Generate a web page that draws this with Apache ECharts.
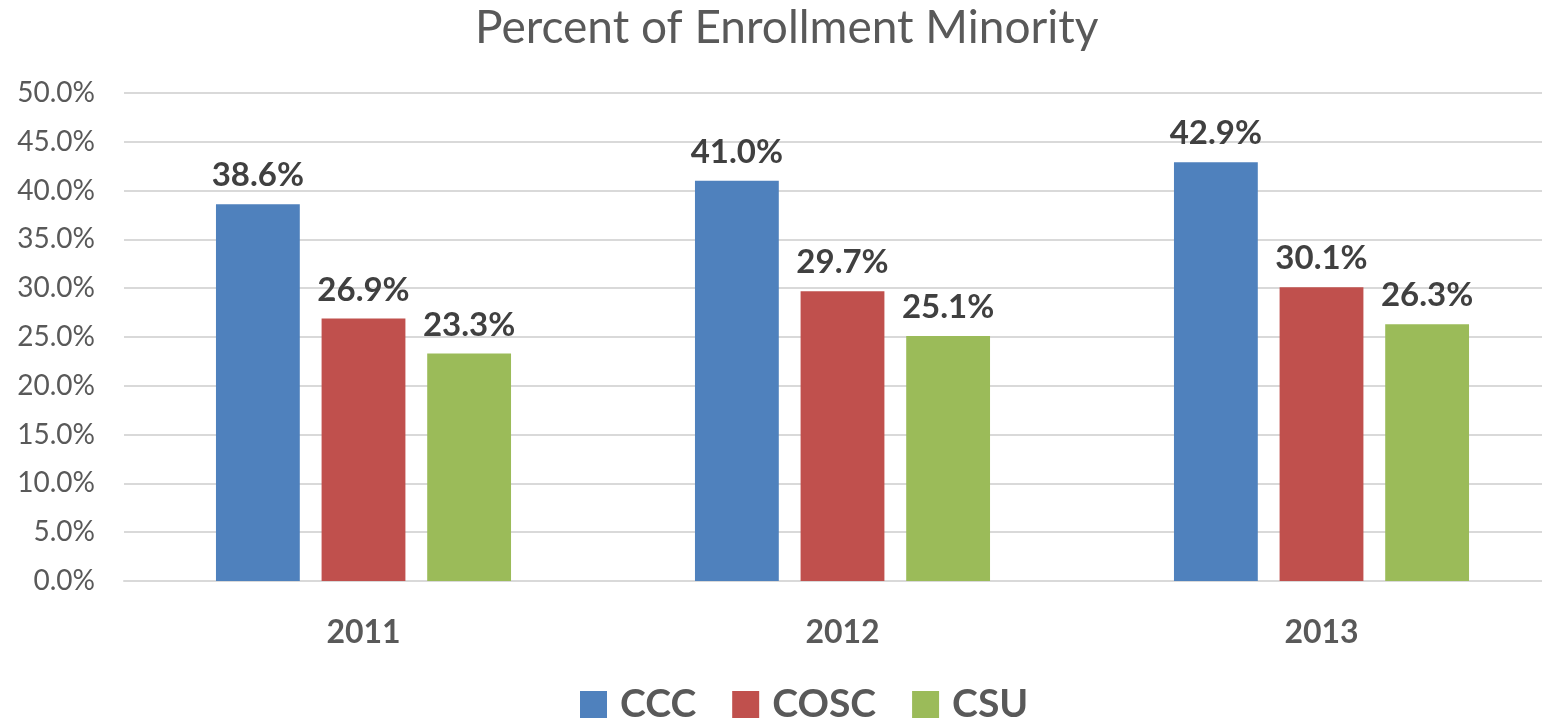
<!DOCTYPE html>
<html><head><meta charset="utf-8">
<script src="https://cdn.jsdelivr.net/npm/echarts@6/dist/echarts.min.js"></script>
<style>html,body{margin:0;padding:0;background:#fff}#c{width:1542px;height:722px}</style>
</head><body><div id="c"></div>
<script>
const categories = ['2011', '2012', '2013'];
const seriesNames = ['CCC', 'COSC', 'CSU'];
const ccc = [38.6, 41.0, 42.9];
const cosc = [26.9, 29.7, 30.1];
const csu = [23.3, 25.1, 26.3];
const colors = ['#4F81BD', '#C0504D', '#9BBB59'];
const FONT = 'Lato';

const chart = echarts.init(document.getElementById('c'));
const mk = (name, data, color) => ({
  name, type: 'bar', data,
  barWidth: '17.5%', barGap: '26%',
  itemStyle: { color },
  label: { show: true, position: 'top', distance: 12,
    formatter: p => p.value.toFixed(1) + '%',
    fontFamily: FONT, fontWeight: 'bold', fontSize: 33, color: '#404040' }
});
chart.setOption({
  animation: false,
  textStyle: { fontFamily: FONT },
  title: { text: 'Percent of Enrollment Minority', left: 470, top: 0,
    textStyle: { fontFamily: FONT, fontWeight: 'normal', fontSize: 46, color: '#595959' } },
  legend: { data: seriesNames, left: 575, top: 680, itemWidth: 27, itemHeight: 27, itemGap: 36,
    icon: 'rect',
    textStyle: { fontFamily: FONT, fontWeight: 'bold', fontSize: 39, color: '#595959', padding: [0,0,0,8] } },
  grid: { left: 124, width: 1437, top: 93, bottom: 141, containLabel: false, outerBoundsMode: 'none' },
  xAxis: { type: 'category', data: categories,
    axisLine: { lineStyle: { color: '#D9D9D9', width: 2 } }, axisTick: { show: false },
    axisLabel: { margin: 36, fontFamily: FONT, fontWeight: 'bold', fontSize: 32, color: '#595959' } },
  yAxis: { type: 'value', min: 0, max: 50, interval: 5,
    axisLine: { show: false }, axisTick: { show: false },
    splitLine: { lineStyle: { color: '#D9D9D9', width: 2 } },
    axisLabel: { margin: 29, fontFamily: FONT, fontSize: 28, color: '#595959',
      formatter: v => v.toFixed(1) + '%' } },
  series: [mk(seriesNames[0], ccc, colors[0]), mk(seriesNames[1], cosc, colors[1]), mk(seriesNames[2], csu, colors[2])]
});
</script></body></html>
